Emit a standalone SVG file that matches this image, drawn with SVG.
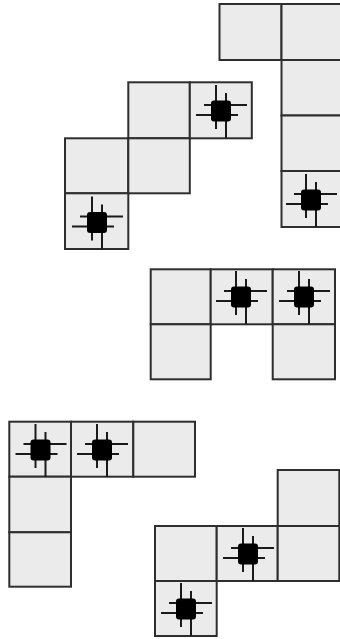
<svg xmlns="http://www.w3.org/2000/svg" xmlns:xlink="http://www.w3.org/1999/xlink" width="340" height="639" viewBox="0 0 340 639">
<style>
.c{fill:#ebebeb;stroke:#2e2e2e;stroke-width:2}
.m line{stroke:#1a1a1a;stroke-width:2}
</style>
<defs>
<g id="mk" class="m">
<line x1="-17" y1="-6" x2="26" y2="-6"/>
<line x1="-25" y1="4" x2="17" y2="4"/>
<line x1="-5" y1="-26" x2="-5" y2="18"/>
<line x1="5" y1="-18" x2="5" y2="27"/>
<rect x="-10" y="-10.5" width="20" height="21" rx="3" fill="#000"/>
</g>
</defs>
<rect width="340" height="639" fill="#fff"/>
<g id="shape1">
<rect class="c" x="219.5" y="4" width="62" height="56"/>
<rect class="c" x="281.5" y="4" width="62" height="56"/>
<rect class="c" x="281.5" y="60" width="62" height="55.5"/>
<rect class="c" x="281.5" y="115.5" width="62" height="55.5"/>
<rect class="c" x="281.5" y="171" width="62" height="56"/>
<use href="#mk" xlink:href="#mk" x="311" y="200"/>
</g>
<g id="shape2">
<rect class="c" x="128.3" y="82.3" width="61.5" height="56"/>
<rect class="c" x="189.8" y="82.3" width="62" height="56"/>
<rect class="c" x="65" y="138.3" width="63.3" height="55"/>
<rect class="c" x="128.3" y="138.3" width="61.5" height="55"/>
<rect class="c" x="65" y="193.3" width="63.3" height="55.7"/>
<use href="#mk" xlink:href="#mk" x="221" y="111"/>
<use href="#mk" xlink:href="#mk" x="97" y="222.5"/>
</g>
<g id="shape3">
<rect class="c" x="150.7" y="269.3" width="60" height="55"/>
<rect class="c" x="210.7" y="269.3" width="62" height="55"/>
<rect class="c" x="272.7" y="269.3" width="62.3" height="55"/>
<rect class="c" x="150.7" y="324.3" width="60" height="55"/>
<rect class="c" x="272.7" y="324.3" width="62.3" height="55"/>
<use href="#mk" xlink:href="#mk" x="241" y="297"/>
<use href="#mk" xlink:href="#mk" x="304" y="297"/>
</g>
<g id="shape4">
<rect class="c" x="9.3" y="421.7" width="61.7" height="55"/>
<rect class="c" x="71" y="421.7" width="62.3" height="55"/>
<rect class="c" x="133.3" y="421.7" width="61.7" height="55"/>
<rect class="c" x="9.3" y="476.7" width="61.7" height="55.6"/>
<rect class="c" x="9.3" y="532.3" width="61.7" height="54.4"/>
<use href="#mk" xlink:href="#mk" x="40.5" y="450"/>
<use href="#mk" xlink:href="#mk" x="102" y="450"/>
</g>
<g id="shape5">
<rect class="c" x="277.7" y="470" width="61.6" height="56"/>
<rect class="c" x="155" y="526" width="61.7" height="55"/>
<rect class="c" x="216.7" y="526" width="61" height="55"/>
<rect class="c" x="277.7" y="526" width="61.6" height="55"/>
<rect class="c" x="155" y="581" width="61.7" height="55"/>
<use href="#mk" xlink:href="#mk" x="248" y="554"/>
<use href="#mk" xlink:href="#mk" x="186" y="609"/>
</g>
</svg>
